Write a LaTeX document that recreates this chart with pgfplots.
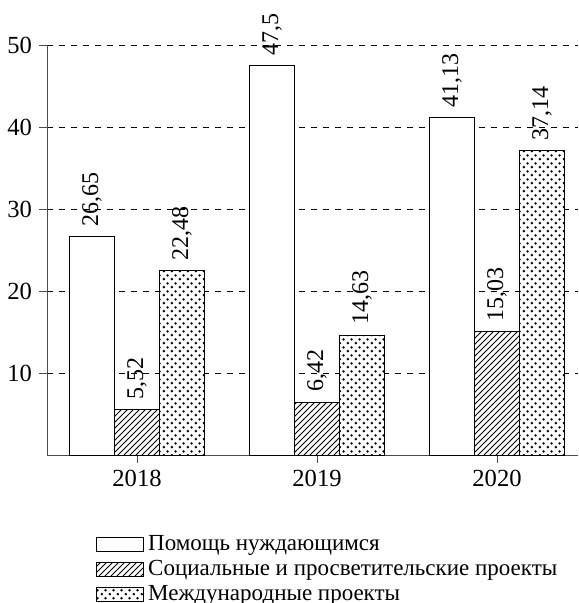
\documentclass[border=0pt]{standalone}
\usepackage{fontspec}
\setmainfont{Liberation Serif}
\usepackage{pgfplots}
\pgfplotsset{compat=1.18}
\usetikzlibrary{patterns}
\pgfdeclarepatternformonly{mydots}{\pgfqpoint{0pt}{0pt}}{\pgfqpoint{3.85pt}{3.85pt}}{\pgfqpoint{3.85pt}{3.85pt}}{%
  \pgfpathcircle{\pgfqpoint{0.96pt}{0.96pt}}{0.7pt}%
  \pgfpathcircle{\pgfqpoint{2.89pt}{2.89pt}}{0.7pt}%
  \pgfusepath{fill}}
\begin{document}
\begin{tikzpicture}
\path[use as bounding box] (-23.5pt,-74pt) rectangle (265.5pt,227.5pt);
\begin{axis}[
  scale only axis, width=265.5pt, height=205pt,
  xmin=2017.5, xmax=2020.45, ymin=0, ymax=50,
  axis x line=bottom, axis y line=left, axis line style={-, black!70},
  xtick={2018,2019,2020}, xticklabels={2018,2019,2020},
  ytick={10,20,30,40,50},
  tick label style={font=\fontsize{12.3}{14}\selectfont},
  ymajorgrids, grid style={dashed, black, thin},
  tick align=outside, major tick length=4pt, tick style={black!70},
  /pgf/number format/assume math mode=true,
  ybar, bar width=0.25, clip=false,
  nodes near coords,
  every node near coord/.append style={rotate=90, anchor=west, inner sep=5pt,
    font=\fontsize{12}{14}\selectfont,
    /pgf/number format/use comma, /pgf/number format/fixed, /pgf/number format/precision=2,
    /pgf/number format/assume math mode=true},
  legend style={at={(0.081,-0.175)}, anchor=north west, draw=none, fill=none,
    row sep=-0.5pt, font=\fontsize{11.5}{14}\selectfont},
  legend cell align=left,
  legend image code/.code={\draw[#1] (0pt,-3.4pt) rectangle (23.5pt,3.4pt);},
]
\addplot[fill=white, draw=black, bar shift=-0.25] coordinates {(2018,26.65) (2019,47.5) (2020,41.13)};
\addplot[fill=white, draw=black, postaction={pattern=north east lines}, bar shift=0] coordinates {(2018,5.52) (2019,6.42) (2020,15.03)};
\addplot[fill=white, draw=black, postaction={pattern=mydots}, bar shift=0.25] coordinates {(2018,22.48) (2019,14.63) (2020,37.14)};
\legend{Помощь нуждающимся, Социальные и просветительские проекты, Международные проекты}
\end{axis}
\end{tikzpicture}
\end{document}
